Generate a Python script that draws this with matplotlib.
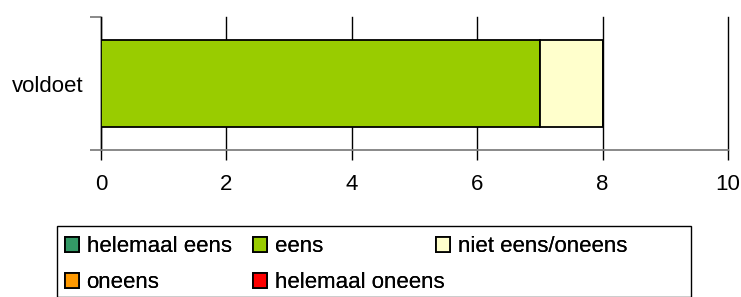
import matplotlib
matplotlib.use("Agg")
import matplotlib.pyplot as plt
from matplotlib.patches import Patch, Rectangle

plt.rcParams['font.family'] = ['Liberation Sans', 'DejaVu Sans']

categories = ["voldoet"]
series_names = ["helemaal eens", "eens", "niet eens/oneens", "oneens", "helemaal oneens"]
series_values = [[0], [7], [1], [0], [0]]
series_colors = ["#339966", "#99CC00", "#FFFFCC", "#FF9900", "#FF0000"]
x_ticks = [0, 2, 4, 6, 8, 10]

W, H = 741, 297
fig = plt.figure(figsize=(W / 100, H / 100), dpi=100)
ax = fig.add_axes([101 / W, 1 - 150 / H, (728 - 101) / W, 133 / H])

fs = 16
left = [0] * len(categories)
for name, vals, col in zip(series_names, series_values, series_colors):
    ax.barh(range(len(categories)), vals, left=left, height=0.66, color=col,
            edgecolor='black', linewidth=1.3, zorder=3)
    left = [l + v for l, v in zip(left, vals)]

ax.set_xlim(0, 10)
ax.set_ylim(-0.5, len(categories) - 0.5)
ax.set_xticks(x_ticks)
ax.set_xticklabels([str(t) for t in x_ticks], fontsize=fs)
ax.set_yticks([0])
ax.set_yticklabels(categories, fontsize=fs)
ax.tick_params(axis='y', length=0, pad=12.5)
ax.set_yticks([-0.5, 0.5], minor=True)
ax.tick_params(axis='y', which='minor', length=8, color='#808080', width=1.3)
ax.tick_params(axis='x', length=7, width=1, color='black', pad=10.5)

ax.grid(axis='x', color='black', linewidth=1, zorder=0)
for gl in ax.get_xgridlines():
    gl.set_clip_on(False)
ax.set_axisbelow(True)
for s in ['top', 'right']:
    ax.spines[s].set_visible(False)
ax.spines['bottom'].set_color('#808080')
ax.spines['bottom'].set_linewidth(1.3)
ax.spines['left'].set_color('black')
ax.spines['left'].set_linewidth(1)

# legend frame
fig.patches.append(Rectangle((57 / W, 0), (691 - 57) / W, 1 - 226 / H,
                             transform=fig.transFigure, facecolor='white',
                             edgecolor='black', linewidth=1))

handles = [Patch(facecolor=c, edgecolor='black', linewidth=1.3) for c in series_colors]
columns = [[0, 3], [1, 4], [2]]
col_x = [65, 253, 436]
for idxs, cx in zip(columns, col_x):
    leg = fig.legend([handles[i] for i in idxs], [series_names[i] for i in idxs],
                     ncol=1, loc='upper left', bbox_to_anchor=(cx / W, 1 - 236.5 / H),
                     frameon=False, fontsize=fs, handlelength=0.62, handleheight=0.62,
                     handletextpad=0.35, labelspacing=0.66,
                     borderpad=0.0, borderaxespad=0)
    fig.add_artist(leg)

fig.savefig("out.png", dpi=100)
